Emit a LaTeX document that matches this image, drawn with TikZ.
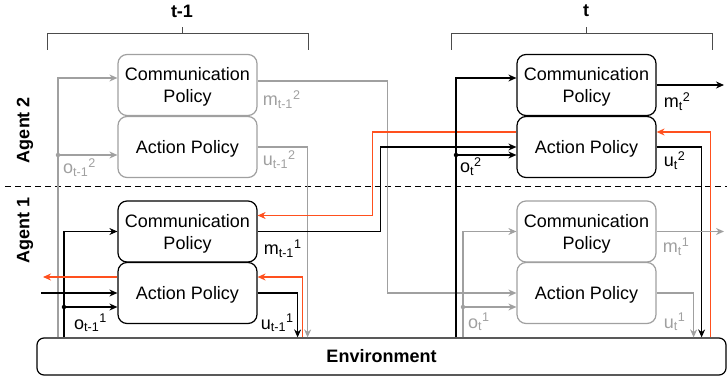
\documentclass[tikz,border=0pt]{standalone}
\usepackage{fontspec}
\setmainfont{Liberation Sans}
\usetikzlibrary{calc, arrows.meta, positioning}

\definecolor{fadegray}{RGB}{160,160,160}
\definecolor{gradred}{RGB}{255,80,30}

\begin{document}
\begin{tikzpicture}[x=1pt, y=-1pt, font=\fontsize{18}{22}\selectfont,
        >={Stealth[length=8pt, width=7pt]},
        policy/.style={draw, rounded corners=9pt, minimum width=139pt, minimum height=61pt, align=center, inner sep=0pt, text depth=0pt, line width=1.2pt},
        faded/.style={draw=fadegray},
        heading/.style={font=\fontsize{18}{22}\selectfont\bfseries},
        wire/.style={line width=1.2pt},
        dot/.style={circle, fill, inner sep=0pt, minimum size=4.5pt},
        sig/.style={anchor=base west, inner sep=0pt}]

        % keep the margins of the figure
        \useasboundingbox (0,0) rectangle (727,379);

        % time steps with their brackets
        \draw[black!70, line width=1pt] (47,50) -- (47,34) -- (308,34) -- (308,50) (182,34) -- (182,27);
        \draw[black!70, line width=1pt] (451,50) -- (451,34) -- (712,34) -- (712,50) (586,34) -- (586,27);
        \node[heading] (tprev) at (182,11) {t-1};
        \node[heading] (tnow) at (586,11) {t};

        % split between the two agents
        \draw[dash pattern=on 6pt off 4pt, line width=1pt] (5,187) -- (727,187);
        \node[heading, rotate=90] (ag2) at (25,130) {Agent 2};
        \node[heading, rotate=90] (ag1) at (25,230) {Agent 1};

        % the environment
        \node[heading, draw, rounded corners=7pt, minimum width=689pt, minimum height=37pt, line width=1.2pt] (env) at (381.5,356.5) {Environment};

        % policies at t-1
        \node[policy, faded] (c2a) at (187.5,85) {Communication\\Policy};
        \node[policy, faded] (a2a) at (187.5,147) {Action Policy};
        \node[policy] (c1a) at (187.5,231.5) {Communication\\Policy};
        \node[policy] (a1a) at (187.5,293) {Action Policy};
        % policies at t
        \node[policy] (c2b) at (586.5,85) {Communication\\Policy};
        \node[policy] (a2b) at (586.5,147) {Action Policy};
        \node[policy, faded] (c1b) at (586.5,231.5) {Communication\\Policy};
        \node[policy, faded] (a1b) at (586.5,293) {Action Policy};

        % observation taps and free ends
        \coordinate (o2a) at (58,155);
        \coordinate (o1a) at (64,307);
        \coordinate (o2b) at (456,155);
        \coordinate (o1b) at (463,307);
        \coordinate (in1) at (41,293);
        \coordinate (out1) at (43,277);
        \coordinate (m2out) at (724,85);
        \coordinate (m1out) at (724,231.5);

        % agent 2 at t-1
        \draw[wire, fadegray, ->] (o2a |- env.north) |- ($(c2a.west)+(0,-7)$);
        \draw[wire, fadegray, ->] (o2a) -- (o2a -| a2a.west);
        \node[dot, fadegray] at (o2a) {};
        \draw[wire, fadegray, ->] ($(c2a.east)+(0,-4)$) -- ++(130,0) coordinate (k2) -- (k2 |- a1b.west) -- (a1b.west);
        \draw[wire, fadegray, ->] (a2a.east) -- ++(50,0) coordinate (u2a) -- (u2a |- env.north);
        \node[sig, fadegray] at ($(o2a)+(5,19)$) {o\textsubscript{t-1}\textsuperscript{2}};
        \node[sig, fadegray] at ($(c2a.east)+(5,21)$) {m\textsubscript{t-1}\textsuperscript{2}};
        \node[sig, fadegray] at ($(a2a.east)+(5,19)$) {u\textsubscript{t-1}\textsuperscript{2}};

        % agent 1 at t-1
        \draw[wire, ->] (o1a |- env.north) |- (c1a.west);
        \draw[wire, ->] (o1a) -- (o1a -| a1a.west);
        \node[dot] at (o1a) {};
        \draw[wire, ->] (in1) -- (a1a.west);
        \draw[wire, gradred, ->] ($(a1a.west)+(0,-16)$) -- (out1);
        \draw[wire, ->] (c1a.east) -- ++(123,0) coordinate (k1) -- (k1 |- a2b.west) -- (a2b.west);
        \draw[wire, ->] (a1a.east) -- ++(40,0) coordinate (u1a) -- (u1a |- env.north);
        \draw[wire, gradred, ->] ($(env.north -| a1a.east)+(45,0)$) |- ($(a1a.east)+(0,-16)$);
        \draw[wire, gradred, ->] ($(a2b.west)+(0,-15)$) -| ($(c1a.east)+(115,-16)$) -- ($(c1a.east)+(0,-16)$);
        \node[sig] at ($(o1a)+(10,22)$) {o\textsubscript{t-1}\textsuperscript{1}};
        \node[sig] at ($(c1a.east)+(6,23)$) {m\textsubscript{t-1}\textsuperscript{1}};
        \node[sig] at ($(a1a.east)+(3,36)$) {u\textsubscript{t-1}\textsuperscript{1}};

        % agent 2 at t
        \draw[wire, ->] (o2b |- env.north) |- ($(c2b.west)+(0,-7)$);
        \draw[wire, ->] (o2b) -- (o2b -| a2b.west);
        \node[dot] at (o2b) {};
        \draw[wire, ->] (c2b.east) -- (m2out);
        \draw[wire, ->] (a2b.east) -- ++(45,0) coordinate (u2b) -- (u2b |- env.north);
        \draw[wire, gradred, ->] ($(env.north -| a2b.east)+(54,0)$) |- ($(a2b.east)+(0,-15)$);
        \node[sig] at ($(o2b)+(4,18)$) {o\textsubscript{t}\textsuperscript{2}};
        \node[sig] at ($(c2b.east)+(7,23)$) {m\textsubscript{t}\textsuperscript{2}};
        \node[sig] at ($(a2b.east)+(7,20)$) {u\textsubscript{t}\textsuperscript{2}};

        % agent 1 at t
        \draw[wire, fadegray, ->] (o1b |- env.north) |- (c1b.west);
        \draw[wire, fadegray, ->] (o1b) -- (o1b -| a1b.west);
        \node[dot, fadegray] at (o1b) {};
        \draw[wire, fadegray, ->] (c1b.east) -- (m1out);
        \draw[wire, fadegray, ->] (a1b.east) -- ++(37,0) coordinate (u1b) -- (u1b |- env.north);
        \node[sig, fadegray] at ($(o1b)+(5,21)$) {o\textsubscript{t}\textsuperscript{1}};
        \node[sig, fadegray] at ($(c1b.east)+(6,21)$) {m\textsubscript{t}\textsuperscript{1}};
        \node[sig, fadegray] at ($(a1b.east)+(7,35)$) {u\textsubscript{t}\textsuperscript{1}};
\end{tikzpicture}
\end{document}
